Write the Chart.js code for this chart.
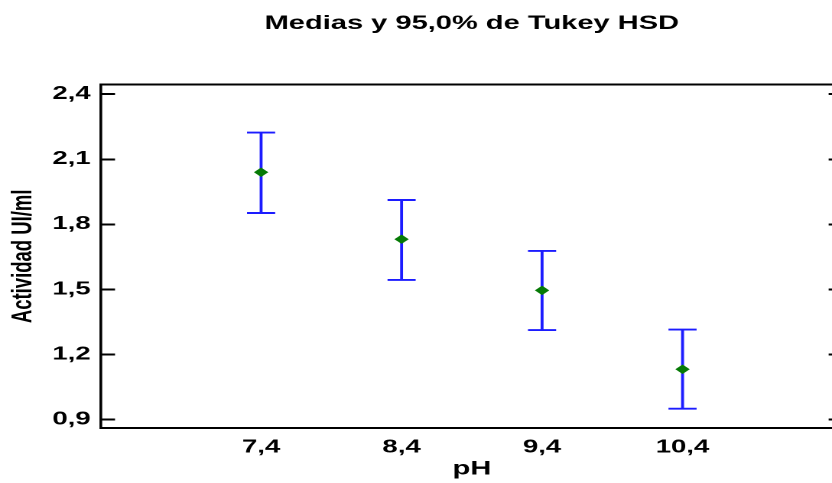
<!DOCTYPE html>
<html>
<head>
<meta charset="utf-8">
<script src="https://cdn.jsdelivr.net/npm/chart.js@4.4.1/dist/chart.umd.min.js"></script>
<style>
  html, body { margin: 0; padding: 0; background: #fff; overflow: hidden; width: 832px; height: 483px; }
  /* the reference is stretched sideways, so the chart is drawn narrow and widened;
     its right edge runs a little past the window */
  #wrap { width: 551px; height: 483px; transform: scaleX(1.5294); transform-origin: 0 0; }
</style>
</head>
<body>
<div id="wrap"><canvas id="chart" width="551" height="483"></canvas></div>
<script>
// ── data ─────────────────────────────────────────────────────
const PH       = [7.4, 8.4, 9.4, 10.4];
const X_LABELS = ['7,4', '8,4', '9,4', '10,4'];
const MEANS    = [2.040, 1.731, 1.495, 1.131];
const LOWER    = [1.852, 1.543, 1.312, 0.949];
const UPPER    = [2.223, 1.912, 1.677, 1.314];
const Y_TICKS  = [0.9, 1.2, 1.5, 1.8, 2.1, 2.4];
const Y_LABELS = ['0,9', '1,2', '1,5', '1,8', '2,1', '2,4'];

const FONT = 'Liberation Sans, Arial, sans-serif';
const BAR_COLOR = '#1c1cff';
const PT_COLOR  = '#067a06';
const TICK_LEN  = 9.2;   // inward tick marks
const CAP       = 9.2;   // half width of the error bar caps
const X_MIN = 6.26, X_MAX = 11.54, Y_MIN = 0.86, Y_MAX = 2.444;

// error bars (stem + caps), drawn under the mean markers
const errorBars = {
  id: 'errorBars',
  beforeDatasetsDraw(chart) {
    const { ctx, scales: { x, y } } = chart;
    ctx.save();
    ctx.strokeStyle = BAR_COLOR;
    ctx.lineWidth = 1.9;
    PH.forEach((p, i) => {
      const px = x.getPixelForValue(p);
      const yl = y.getPixelForValue(LOWER[i]);
      const yh = y.getPixelForValue(UPPER[i]);
      ctx.beginPath();
      ctx.moveTo(px, yl); ctx.lineTo(px, yh);
      ctx.moveTo(px - CAP, yl); ctx.lineTo(px + CAP, yl);
      ctx.moveTo(px - CAP, yh); ctx.lineTo(px + CAP, yh);
      ctx.stroke();
    });
    ctx.restore();
  }
};

const setYTicks = s => { s.ticks = Y_TICKS.map(v => ({ value: v })); };
const tickFont = { family: FONT, size: 18, weight: 'bold' };

new Chart(document.getElementById('chart'), {
  type: 'scatter',
  data: {
    datasets: [{
      data: PH.map((p, i) => ({ x: p, y: MEANS[i] })),
      pointStyle: 'rectRot',
      pointRadius: 4,
      pointBorderWidth: 1,
      backgroundColor: PT_COLOR,
      borderColor: PT_COLOR,
      showLine: false
    }]
  },
  options: {
    responsive: false,
    devicePixelRatio: 2,
    animation: false,
    layout: { padding: 0, autoPadding: false },
    plugins: {
      legend: { display: false },
      tooltip: { enabled: false },
      title: {
        display: true, fullSize: false,
        text: 'Medias y 95,0% de Tukey HSD',
        color: '#000',
        font: { family: FONT, size: 19, weight: 'bold' },
        padding: { top: 12.6, bottom: 49.3 }
      }
    },
    scales: {
      x: {
        type: 'linear', min: X_MIN, max: X_MAX,
        afterBuildTicks: s => { s.ticks = PH.map(v => ({ value: v })); },
        afterFit: s => { s.height = 55; },
        border: { display: true, color: '#000', width: 2 },
        grid: { drawOnChartArea: false, drawTicks: false },
        ticks: { padding: 8.5, color: '#000', font: tickFont, callback: (v, i) => X_LABELS[i] },
        title: { display: true, text: 'pH', color: '#000',
                 font: { family: FONT, size: 19, weight: 'bold' }, padding: { top: 0, bottom: 2.3 } }
      },
      // top edge of the frame
      x2: {
        type: 'linear', position: 'top', min: X_MIN, max: X_MAX,
        afterFit: s => { s.height = 0; },
        border: { display: true, color: '#000', width: 2 },
        grid: { drawOnChartArea: false, drawTicks: false },
        ticks: { display: false }
      },
      y: {
        type: 'linear', min: Y_MIN, max: Y_MAX,
        afterBuildTicks: setYTicks,
        afterFit: s => { s.width = 66; },
        border: { display: true, color: '#000', width: 1.8 },
        grid: { drawOnChartArea: false, drawTicks: true, tickLength: -TICK_LEN, color: '#000', lineWidth: 2 },
        ticks: { padding: TICK_LEN + 6.7, color: '#000', font: tickFont, callback: (v, i) => Y_LABELS[i] },
        title: { display: true, text: 'Actividad UI/ml', color: '#000',
                 font: { family: FONT, size: 18.5, weight: 'bold' }, padding: { top: 4.4, bottom: 0 } }
      },
      // inward ticks on the right edge (its line lies past the window)
      y2: {
        type: 'linear', position: 'right', min: Y_MIN, max: Y_MAX,
        afterBuildTicks: setYTicks,
        afterFit: s => { s.width = 0; },
        border: { display: false },
        grid: { drawOnChartArea: false, drawTicks: true, tickLength: -TICK_LEN, color: '#000', lineWidth: 2 },
        ticks: { display: false }
      }
    }
  },
  plugins: [errorBars]
});
</script>
</body>
</html>
